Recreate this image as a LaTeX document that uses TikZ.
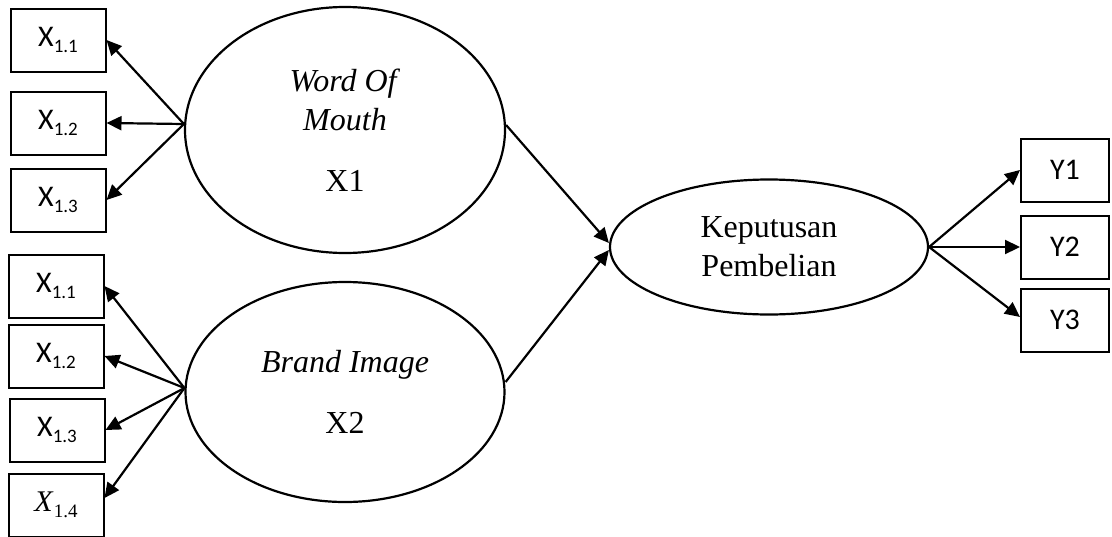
\documentclass[tikz,border=0pt]{standalone}
\usepackage{fontspec}
\setmainfont{Liberation Serif}
\setsansfont{Carlito}
\usepackage{tikz}
\usetikzlibrary{shapes.geometric,arrows.meta}
\tikzstyle{indbox} = [draw=black, fill=white, line width=2pt, rectangle,
    minimum width=95pt, minimum height=63pt, inner sep=0pt,
    font=\sffamily\fontsize{30}{32}\selectfont]
\tikzstyle{latent} = [draw=black, fill=white, line width=2.2pt, ellipse,
    inner sep=0pt, align=center, font=\fontsize{32}{39}\selectfont]
\tikzstyle{path} = [line width=2.2pt, -{Triangle[length=15pt,width=14pt]}]
\newcommand{\subx}[1]{\raisebox{-6pt}{\fontsize{19}{19}\selectfont #1}}

\begin{document}
\begin{tikzpicture}[x=1pt, y=-1pt]
    \useasboundingbox (0,0) rectangle (1112,536);
    % latent variables
    \node [latent, minimum width=320pt, minimum height=246pt] (wom) at (345,130)
        {\textit{Word Of}\\\textit{Mouth}\\[22pt]X1};
    \node [latent, minimum width=319pt, minimum height=220pt] (bi) at (345,392)
        {\textit{Brand Image}\\[22pt]X2};
    \node [latent, minimum width=318pt, minimum height=135pt] (kp) at (769,247)
        {Keputusan\\Pembelian};
    % indicators X1
    \node [indbox] (a1) at (58,40) {X\subx{1.1}};
    \node [indbox] (a2) at (58,123) {X\subx{1.2}};
    \node [indbox] (a3) at (58,200) {X\subx{1.3}};
    % indicators X2
    \node [indbox] (b1) at (56,286) {X\subx{1.1}};
    \node [indbox] (b2) at (56,356) {X\subx{1.2}};
    \node [indbox] (b3) at (57,430) {X\subx{1.3}};
    \node [indbox] (b4) at (56,505) {\rmfamily\textit{X}\subx{1.4}};
    % indicators Y
    \node [indbox, minimum width=88pt] (y1) at (1065,170) {Y1};
    \node [indbox, minimum width=88pt] (y2) at (1065,247) {Y2};
    \node [indbox, minimum width=88pt] (y3) at (1065,320) {Y3};

    \foreach \n in {a1,a2,a3}
        \draw [path] ([yshift=6pt]wom.west) -- (\n.east);
    \foreach \n in {b1,b2,b3}
        \draw [path] ([yshift=4pt]bi.west) -- (\n.east);
    \draw [path] ([yshift=4pt]bi.west) -- ([yshift=7pt]b4.east);
    \draw [path] ([yshift=5pt]wom.east) -- ([yshift=4pt]kp.west);
    \draw [path] ([yshift=10pt]bi.east) -- ([yshift=-3pt]kp.west);
    \draw [path] (kp.east) -- (y1.west);
    \draw [path] (kp.east) -- (y2.west);
    \draw [path] (kp.east) -- ([yshift=3pt]y3.west);
\end{tikzpicture}
\end{document}
